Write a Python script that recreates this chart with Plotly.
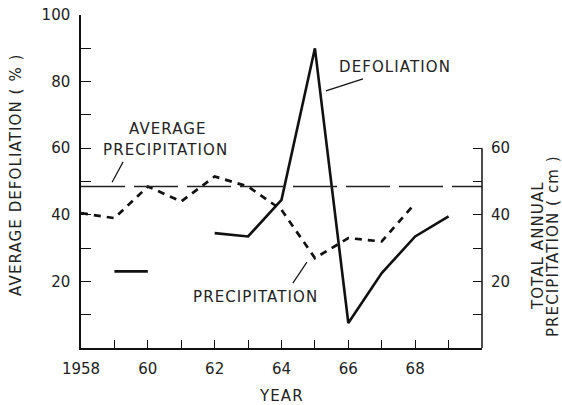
import plotly.graph_objects as go

years = [1958, 1959, 1960, 1961, 1962, 1963, 1964, 1965, 1966, 1967, 1968, 1969]
defoliation = [None, 23, 23, None, 34.5, 33.5, 44.5, 90, 7.5, 22.5, 33.5, 39.5]
precipitation = [40.5, 39, 48.5, 44, 51.5, 48.5, 41.5, 27, 33, 32, 43.5, None]
avg_precip = 48.5
avg_years = [1958, 1970]

x_tickvals = list(range(1958, 1970))
x_ticktext = ["1958", "", "60", "", "62", "", "64", "", "66", "", "68", ""]
y_tickvals = list(range(10, 101, 10))
y_ticktext = ["", "20", "", "40", "", "60", "", "80", "", "100"]
y2_tickvals = list(range(10, 61, 10))
y2_ticktext = ["", "20", "", "40", "", "60"]

FONT = "DejaVu Sans"
TXT = "#222222"
INK = "#111111"


def sp(t, ls=1.1):
    return '<span style="letter-spacing:%spx">%s</span>' % (ls, t)


fig = go.Figure()
fig.add_trace(go.Scatter(x=years, y=defoliation, mode="lines",
                         line=dict(color=INK, width=2.6), connectgaps=False,
                         showlegend=False, hoverinfo="skip"))
fig.add_trace(go.Scatter(x=years, y=precipitation, mode="lines", yaxis="y2",
                         line=dict(color=INK, width=2.7, dash="7px,6px"),
                         connectgaps=False, showlegend=False, hoverinfo="skip"))
fig.add_trace(go.Scatter(x=avg_years, y=[avg_precip] * len(avg_years), mode="lines",
                         yaxis="y2", line=dict(color="#222222", width=1.3, dash="44px,9px"),
                         showlegend=False, hoverinfo="skip"))

fig.update_layout(
    width=562, height=405,
    margin=dict(l=81, r=80, t=15, b=57),
    paper_bgcolor="white", plot_bgcolor="white",
    font=dict(family=FONT, size=15, color=TXT),
    xaxis=dict(range=[1958, 1970], tickvals=x_tickvals, ticktext=x_ticktext,
               ticks="inside", ticklen=8, tickwidth=1.3, tickcolor=INK,
               showline=True, linecolor=INK, linewidth=1.5, showgrid=False,
               zeroline=False, ticklabelstandoff=6, automargin=False),
    yaxis=dict(range=[0, 100], tickvals=y_tickvals, ticktext=y_ticktext,
               ticks="inside", ticklen=10, tickwidth=1.3, tickcolor=INK,
               showline=True, linecolor=INK, linewidth=1.5, showgrid=False,
               zeroline=False, ticklabelstandoff=6, automargin=False),
    yaxis2=dict(range=[0, 100], overlaying="y", side="right",
                tickvals=y2_tickvals, ticktext=y2_ticktext,
                ticks="inside", ticklen=9, tickwidth=1.3, tickcolor=INK,
                showline=False, showgrid=False, zeroline=False,
                ticklabelstandoff=8, automargin=False),
)

# right axis line only spans 0..60
fig.add_shape(type="line", xref="paper", yref="y2", x0=1, x1=1, y0=0, y1=60,
              line=dict(color=INK, width=1.5))


def ann(text, x, y, **kw):
    fig.add_annotation(text=sp(text), x=x, y=y, showarrow=False,
                       xanchor="center", yanchor="middle",
                       font=dict(family=FONT, size=15, color=TXT), **kw)


ann("AVERAGE", 1960.60, 65.8)
ann("PRECIPITATION", 1960.54, 59.5)
ann("DEFOLIATION", 1967.40, 84.4)
ann("PRECIPITATION", 1963.21, 15.3)

for (x0, y0, x1, y1) in [(1958.93, 49.8, 1959.26, 55.9),
                         (1965.33, 77.2, 1966.44, 80.8),
                         (1964.34, 19.5, 1964.76, 25.8)]:
    fig.add_shape(type="line", x0=x0, y0=y0, x1=x1, y1=y1,
                  line=dict(color=INK, width=1.2))

ann("AVERAGE DEFOLIATION ( % )", -0.162, 0.52, xref="paper", yref="paper", textangle=-90)
ann("TOTAL ANNUAL", 1.1397, 0.306, xref="paper", yref="paper", textangle=-90)
ann("PRECIPITATION ( cm )", 1.177, 0.306, xref="paper", yref="paper", textangle=-90)
ann("YEAR", 0.499, -0.144, xref="paper", yref="paper")

fig.write_html("out.html")
